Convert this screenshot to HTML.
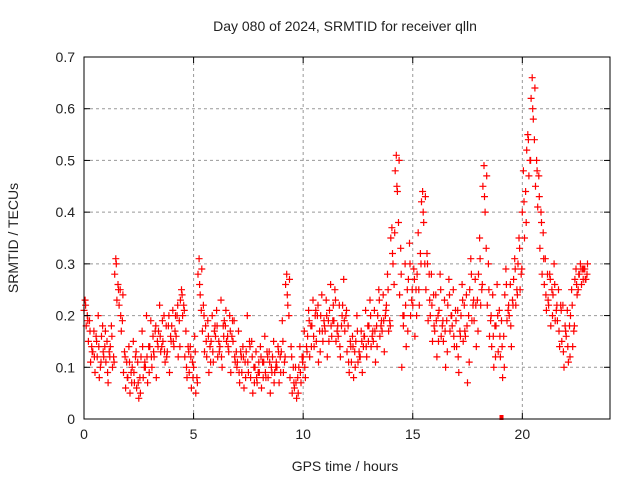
<!DOCTYPE html>
<html><head><meta charset="utf-8"><style>
body{margin:0;background:#fff}
svg{display:block;font-family:"Liberation Sans",sans-serif}
</style></head><body>
<svg id="chart" width="640" height="480">
<text x="345" y="31" text-anchor="middle" font-size="14" fill="#222">Day 080 of 2024, SRMTID for receiver qlln</text>
<text x="345" y="471" text-anchor="middle" font-size="14" fill="#222">GPS time / hours</text>
<text transform="translate(18,238) rotate(-90)" text-anchor="middle" font-size="14" fill="#222">SRMTID / TECUs</text>
<g id="grid"></g>
<g id="points"></g>
<rect x="84" y="57" width="526" height="362" fill="none" stroke="#000" stroke-width="1"/>
<g id="ticks"></g>
</svg>
<script>
const xTicks=[0,5,10,15,20];
const yTicks=[0,0.1,0.2,0.3,0.4,0.5,0.6,0.7];
const yTickLabels=["0","0.1","0.2","0.3","0.4","0.5","0.6","0.7"];
const timeStep=0.2;
const seriesOffsets=[0,0.05,0.1,0.15,0.075,0.175];
const s1=[.21,.15,.13,.12,.16,.11,.14,.28,.22,.09,.08,.10,.06,.12,.10,.14,.12,.17,.15,.13,.18,.16,.23,.12,.09,.10,.28,.17,.12,.15,.16,.14,.19,.13,.15,.11,.09,.13,.08,.10,.09,.11,.08,.12,.10,.13,.26,.08,.06,.10,.12,.16,.18,.15,.20,.17,.21,.19,.16,.22,.13,.11,.15,.12,.16,.18,.15,.20,.17,.22,.35,.48,.24,.20,.27,.22,.28,.42,.25,.20,.17,.21,.15,.22,.18,.14,.20,.16,.25,.19,.28,.45,.22,.14,.18,.12,.24,.20,.27,.30,.40,.52,.62,.45,.33,.26,.22,.24,.19,.15,.16,.20,.27,.28,.29];
const s2=[.23,.19,.17,.20,.18,.15,.18,.31,.25,.13,.14,.15,.11,.17,.20,.19,.17,.22,.20,.18,.21,.20,.25,.17,.14,.16,.31,.22,.19,.20,.21,.23,.18,.20,.19,.17,.14,.20,.15,.13,.14,.16,.13,.15,.14,.19,.28,.14,.10,.14,.17,.21,.23,.20,.24,.23,.26,.25,.22,.27,.18,.16,.20,.17,.21,.23,.21,.25,.24,.28,.37,.51,.33,.30,.34,.29,.36,.44,.32,.28,.24,.28,.23,.27,.25,.21,.26,.24,.31,.27,.35,.49,.30,.24,.26,.19,.29,.26,.31,.35,.48,.55,.66,.50,.40,.31,.28,.30,.25,.22,.21,.25,.29,.30,.29];
const s3=[.18,.11,.09,.08,.12,.07,.10,.23,.17,.06,.05,.07,.04,.08,.07,.10,.08,.13,.11,.09,.14,.12,.20,.08,.06,.05,.24,.13,.09,.11,.12,.10,.15,.09,.11,.07,.06,.09,.05,.07,.06,.08,.05,.09,.07,.09,.22,.05,.04,.07,.08,.12,.14,.11,.15,.12,.16,.15,.12,.17,.09,.08,.11,.09,.12,.14,.11,.16,.13,.17,.30,.44,.10,.14,.20,.16,.22,.38,.19,.15,.12,.16,.10,.17,.14,.09,.15,.07,.19,.14,.22,.40,.16,.10,.13,.08,.19,.14,.22,.25,.35,.47,.58,.41,.28,.21,.18,.19,.14,.10,.11,.14,.24,.26,.27];
const s4=[.20,.14,.16,.10,.14,.13,.12,.26,.19,.11,.09,.12,.08,.10,.14,.16,.15,.14,.18,.16,.17,.19,.22,.14,.11,.08,.21,.18,.14,.17,.15,.18,.16,.16,.13,.13,.11,.15,.10,.09,.11,.13,.10,.10,.12,.11,.20,.10,.08,.12,.14,.18,.20,.17,.19,.19,.19,.17,.18,.20,.15,.13,.13,.14,.18,.16,.18,.18,.20,.19,.26,.38,.20,.25,.23,.25,.32,.30,.28,.24,.20,.18,.19,.20,.21,.17,.22,.20,.22,.23,.25,.33,.19,.18,.21,.16,.21,.23,.25,.28,.44,.50,.54,.47,.36,.28,.25,.21,.22,.18,.18,.17,.25,.29,.28];
const s5=[.22,.17,.12,.14,.13,.09,.16,.30,.20,.12,.11,.09,.07,.14,.12,.12,.18,.16,.13,.20,.15,.22,.24,.10,.12,.13,.26,.20,.16,.13,.18,.12,.21,.17,.12,.09,.12,.11,.12,.08,.12,.09,.11,.07,.13,.15,.24,.12,.07,.09,.10,.19,.16,.22,.17,.20,.18,.23,.14,.19,.11,.14,.17,.15,.14,.20,.17,.23,.19,.25,.32,.45,.28,.22,.30,.27,.25,.40,.30,.22,.19,.25,.17,.24,.16,.12,.23,.18,.28,.22,.31,.43,.25,.16,.20,.14,.26,.18,.29,.33,.42,.54,.60,.48,.38,.24,.27,.26,.17,.13,.14,.22,.26,.29,.27];
const s6=[.19,.13,.15,.11,.17,.12,.11,.25,.24,.08,.07,.13,.05,.11,.09,.13,.14,.19,.12,.15,.20,.14,.21,.13,.08,.07,.29,.15,.11,.18,.13,.16,.14,.19,.10,.12,.08,.14,.07,.11,.08,.12,.09,.11,.09,.12,.27,.07,.05,.11,.13,.14,.21,.13,.18,.15,.22,.18,.20,.21,.14,.10,.12,.16,.15,.17,.14,.19,.21,.18,.36,.50,.18,.17,.25,.20,.30,.43,.23,.18,.15,.19,.13,.20,.19,.16,.17,.11,.23,.17,.26,.47,.20,.12,.16,.10,.22,.22,.24,.29,.38,.50,.64,.43,.31,.23,.20,.22,.21,.17,.12,.18,.28,.27,.30];
const allSeries=[s1,s2,s3,s4,s5,s6];
const NS="http://www.w3.org/2000/svg";
const X0=84,X1=610,Y0=419,Y1=57,XMAX=24,YMAX=0.7;
function xs(v){return X0+(X1-X0)*v/XMAX;}
function ys(v){return Y0-(Y0-Y1)*v/YMAX;}
function mk(tag,attrs,parent){const e=document.createElementNS(NS,tag);for(const k in attrs)e.setAttribute(k,attrs[k]);parent.appendChild(e);return e;}
const grid=document.getElementById('grid'),ticks=document.getElementById('ticks'),pts=document.getElementById('points');
xTicks.forEach(v=>{
  const x=xs(v);
  if(v>0){const g=mk('line',{x1:x,x2:x,y1:Y0,y2:Y1,stroke:'#999','stroke-dasharray':'3,3'},grid);
  
  }
  mk('line',{x1:x,x2:x,y1:Y0,y2:Y0-6,stroke:'#000'},ticks);
  mk('line',{x1:x,x2:x,y1:Y1,y2:Y1+6,stroke:'#000'},ticks);
  const t=mk('text',{x:x,y:Y0+20,'text-anchor':'middle','font-size':14,fill:'#222'},ticks);
  t.textContent=v;
  
  
});
yTicks.forEach((v,i)=>{
  const y=ys(v);
  if(v>0){const g=mk('line',{x1:X0,x2:X1,y1:y,y2:y,stroke:'#999','stroke-dasharray':'3,3'},grid);
  
  }
  mk('line',{x1:X0,x2:X0+6,y1:y,y2:y,stroke:'#000'},ticks);
  mk('line',{x1:X1,x2:X1-6,y1:y,y2:y,stroke:'#000'},ticks);
  const t=mk('text',{x:X0-9,y:y+5,'text-anchor':'end','font-size':14,fill:'#222'},ticks);
  t.textContent=yTickLabels[i];
  
  
});
let d='';
allSeries.forEach((s,si)=>{
  s.forEach((v,i)=>{
    const x=xs(i*timeStep+seriesOffsets[si]),y=ys(v);
    d+=`M${(x-3.5).toFixed(1)} ${y.toFixed(1)}h7M${x.toFixed(1)} ${(y-3.5).toFixed(1)}v7`;
  });
});
const p=mk('path',{d:d,stroke:'#ff0000','stroke-width':1.2,fill:'none'},pts);


const m=mk('rect',{x:xs(19.05)-2,y:Y0-4,width:4,height:5,fill:'#ff0000'},pts);


</script>
</body></html>
